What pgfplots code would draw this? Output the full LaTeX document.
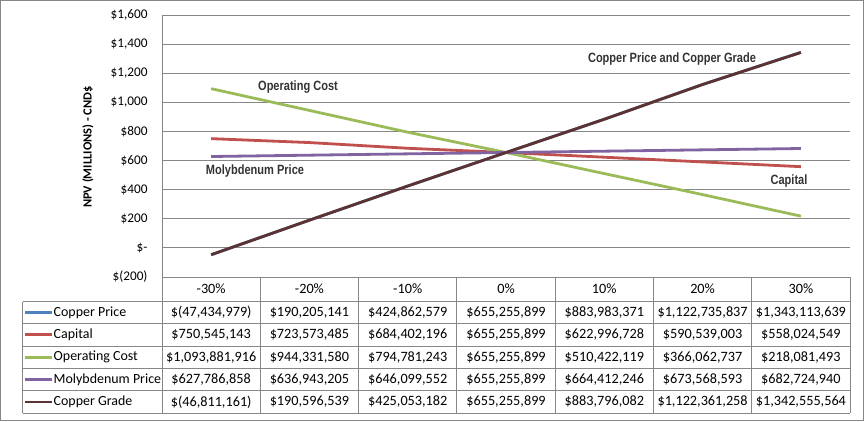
\documentclass[border=0pt]{standalone}
\usepackage{pgfplots}
\pgfplotsset{compat=1.18}
\usepackage{fontspec}
\setmainfont{Carlito}
\newfontfamily\annfont{Liberation Sans}
\definecolor{cblue}{HTML}{4F81BD}
\definecolor{cred}{HTML}{C0504D}
\definecolor{cgreen}{HTML}{9BBB59}
\definecolor{cpurple}{HTML}{8064A2}
\definecolor{cbrown}{HTML}{5C3232}
\definecolor{gridgray}{HTML}{878787}
\definecolor{anntext}{HTML}{333333}
\newcommand{\ann}[1]{\scalebox{0.82}[1]{\annfont\bfseries\fontsize{13.5}{15}\selectfont #1}}
\begin{document}
\begin{tikzpicture}[x=1bp,y=1bp]
\path[use as bounding box] (0,0) rectangle (864,421);
\draw[gridgray,line width=0.8bp] (0.5,0.5) rectangle (863.5,420.5);
\begin{axis}[
  at={(162bp,144bp)}, anchor=south west,
  scale only axis, width=688bp, height=262bp,
  xmin=0, xmax=7, ymin=-200, ymax=1600,
  axis x line=none, axis y line*=left,
  axis line style={gridgray, line width=0.8bp},
  major tick length=0pt,
  ytick={-200,0,200,400,600,800,1000,1200,1400,1600},
  yticklabels={{\$(200)},{\$-\hspace{4bp}},{\$200},{\$400},{\$600},{\$800},{\$1,000},{\$1,200},{\$1,400},{\$1,600}},
  yticklabel style={font=\fontsize{13.3}{15}\selectfont, xshift=-11bp},
  ymajorgrids, grid style={gridgray, line width=0.8bp},
  clip=false,
]
\addplot[cblue, line width=2.8bp] coordinates {(0.5,-47.434979) (1.5,190.205141) (2.5,424.862579) (3.5,655.255899) (4.5,883.983371) (5.5,1122.735837) (6.5,1343.113639)};
\addplot[cred, line width=2.8bp] coordinates {(0.5,750.545143) (1.5,723.573485) (2.5,684.402196) (3.5,655.255899) (4.5,622.996728) (5.5,590.539003) (6.5,558.024549)};
\addplot[cgreen, line width=2.8bp] coordinates {(0.5,1093.881916) (1.5,944.331580) (2.5,794.781243) (3.5,655.255899) (4.5,510.422119) (5.5,366.062737) (6.5,218.081493)};
\addplot[cpurple, line width=2.8bp] coordinates {(0.5,627.786858) (1.5,636.943205) (2.5,646.099552) (3.5,655.255899) (4.5,664.412246) (5.5,673.568593) (6.5,682.724940)};
\addplot[cbrown, line width=2.8bp] coordinates {(0.5,-46.811161) (1.5,190.596539) (2.5,425.053182) (3.5,655.255899) (4.5,883.796082) (5.5,1122.361258) (6.5,1342.555564)};
\end{axis}
% y axis label
\node[rotate=90, font=\fontsize{12.5}{14}\selectfont\bfseries] at (88,274) {NPV (MILLIONS) - CND\$};
% annotations
\node[anntext] at (672,362) {\ann{Copper Price and Copper Grade}};
\node[anntext] at (298,334) {\ann{Operating Cost}};
\node[anntext] at (255,250) {\ann{Molybdenum Price}};
\node[anntext] at (789,240) {\ann{Capital}};
% data table
\begin{scope}[gridgray, line width=0.8bp]
\draw (162,406) -- (162,7.7);
\foreach \yy in {119.3,97.7,75,52.3,30.3,7.7} \draw (22.7,\yy) -- (850,\yy);
\draw (22.7,119.3) -- (22.7,7.7);
\foreach \k in {1,...,7} \draw ({162+98.286*\k},144) -- ({162+98.286*\k},7.7);
\end{scope}
\begin{scope}[every node/.style={font=\fontsize{14.3}{15}\selectfont, inner sep=0pt}]
\foreach \lab [count=\i from 0] in {-30\%,-20\%,-10\%,0\%,10\%,20\%,30\%}
  \node at ({162+98.286*(\i+0.5)},132) {\lab};
\foreach \nm/\col/\yy in {Copper Price/cblue/108.5, Capital/cred/86.4, Operating Cost/cgreen/63.7, Molybdenum Price/cpurple/41.3, Copper Grade/cbrown/19} {
  \draw[\col, line width=2.8bp] (25,\yy) -- (52,\yy);
  \node[anchor=west, font=\fontsize{14}{15}\selectfont] at (53.5,\yy) {\nm};
}
\foreach \v [count=\i from 0] in {{\$(47,434,979)},{\$190,205,141},{\$424,862,579},{\$655,255,899},{\$883,983,371},{\$1,122,735,837},{\$1,343,113,639}}
  \node at ({162+98.286*(\i+0.5)},108.5) {\v};
\foreach \v [count=\i from 0] in {{\$750,545,143},{\$723,573,485},{\$684,402,196},{\$655,255,899},{\$622,996,728},{\$590,539,003},{\$558,024,549}}
  \node at ({162+98.286*(\i+0.5)},86.4) {\v};
\foreach \v [count=\i from 0] in {{\$1,093,881,916},{\$944,331,580},{\$794,781,243},{\$655,255,899},{\$510,422,119},{\$366,062,737},{\$218,081,493}}
  \node at ({162+98.286*(\i+0.5)},63.7) {\v};
\foreach \v [count=\i from 0] in {{\$627,786,858},{\$636,943,205},{\$646,099,552},{\$655,255,899},{\$664,412,246},{\$673,568,593},{\$682,724,940}}
  \node at ({162+98.286*(\i+0.5)},41.3) {\v};
\foreach \v [count=\i from 0] in {{\$(46,811,161)},{\$190,596,539},{\$425,053,182},{\$655,255,899},{\$883,796,082},{\$1,122,361,258},{\$1,342,555,564}}
  \node at ({162+98.286*(\i+0.5)},19) {\v};
\end{scope}
\end{tikzpicture}
\end{document}
